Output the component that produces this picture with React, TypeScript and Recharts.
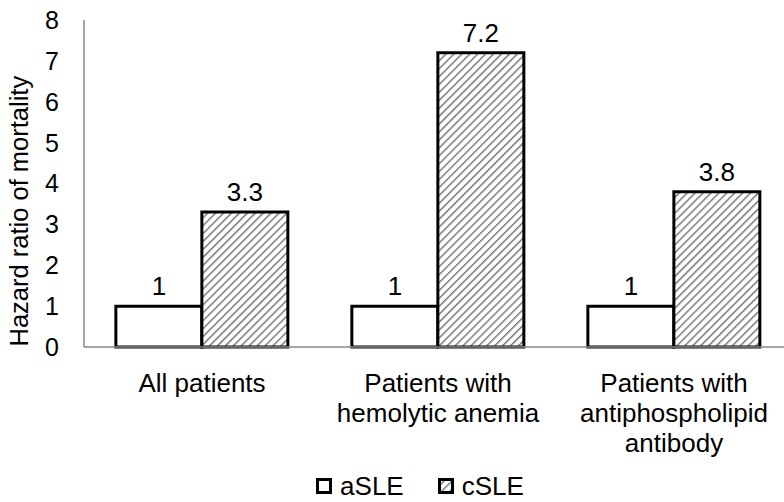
import React from "react";
import { BarChart, Bar, XAxis, YAxis, Legend, LabelList } from "recharts";

const categories = [
  "All patients",
  "Patients with\nhemolytic anemia",
  "Patients with\nantiphospholipid\nantibody",
];
const aSLE = [1, 1, 1];
const cSLE = [3.3, 7.2, 3.8];
const yTicks = [0, 1, 2, 3, 4, 5, 6, 7, 8];

const data = categories.map((name, i) => ({ name, aSLE: aSLE[i], cSLE: cSLE[i] }));

const FONT = "'Liberation Sans', Arial, sans-serif";

function CategoryTick(props: any) {
  const { x, y, payload } = props;
  const lines = String(payload.value).split("\n");
  return (
    <text x={x} y={y} textAnchor="middle" fill="#000" fontSize={26} fontFamily={FONT}>
      {lines.map((line, i) => (
        <tspan key={i} x={x} dy={i === 0 ? 37 : 30}>
          {line}
        </tspan>
      ))}
    </text>
  );
}

function HatchDef({ id }: { id: string }) {
  return (
    <pattern id={id} patternUnits="userSpaceOnUse" width={5.6} height={5.6} patternTransform="rotate(45)">
      <rect width={5.6} height={5.6} fill="#fff" />
      <line x1={0} y1={0} x2={0} y2={5.6} stroke="#707070" strokeWidth={2.8} />
    </pattern>
  );
}

function LegendContent() {
  const item = (label: string, fill: string) => (
    <span style={{ display: "inline-flex", alignItems: "center", margin: "0 17px" }}>
      <svg width={16} height={16} style={{ marginRight: 8 }}>
        <rect x={1.5} y={1.5} width={13} height={13} fill={fill} stroke="#000" strokeWidth={3} />
      </svg>
      <span>{label}</span>
    </span>
  );
  return (
    <div
      style={{
        height: 40,
        boxSizing: "border-box",
        display: "flex",
        justifyContent: "center",
        alignItems: "center",
        fontFamily: FONT,
        fontSize: 26,
        color: "#000",
        paddingLeft: 48,
        paddingTop: 8,
      }}
    >
      {item("aSLE", "#fff")}
      {item("cSLE", "url(#hatch)")}
    </div>
  );
}

export default function App() {
  return (
    <div
      style={{
        position: "absolute",
        left: 0,
        top: 0,
        width: 784,
        height: 502,
        overflow: "hidden",
        background: "#fff",
      }}
    >
      <svg width={0} height={0} style={{ position: "absolute" }}>
        <defs>
          <HatchDef id="hatch" />
        </defs>
      </svg>
      <BarChart
        width={800}
        height={502}
        data={data}
        margin={{ top: 20, right: 8, left: 0, bottom: 0 }}
        barCategoryGap="13.5%"
        barGap={0}
      >
        <defs>
          <HatchDef id="hatchBar" />
        </defs>
        <XAxis
          dataKey="name"
          height={115}
          interval={0}
          tickLine={false}
          axisLine={{ stroke: "#888", strokeWidth: 1.5 }}
          tick={<CategoryTick />}
        />
        <YAxis
          width={84}
          domain={[0, 8]}
          ticks={yTicks}
          interval={0}
          tickLine={false}
          tickSize={0}
          tickMargin={25}
          axisLine={{ stroke: "#888", strokeWidth: 1.5 }}
          tick={{ fill: "#000", fontSize: 25, fontFamily: FONT }}
          label={{
            value: "Hazard ratio of mortality",
            angle: -90,
            position: "insideLeft",
            dx: 14,
            dy: 163,
            fill: "#000",
            fontSize: 25.5,
            fontFamily: FONT,
          }}
        />
        <Legend verticalAlign="bottom" content={<LegendContent />} />
        <Bar dataKey="aSLE" fill="#fff" stroke="#000" strokeWidth={3} isAnimationActive={false}>
          <LabelList dataKey="aSLE" position="top" offset={11} fill="#000" fontSize={26} fontFamily={FONT} />
        </Bar>
        <Bar dataKey="cSLE" fill="url(#hatchBar)" stroke="#000" strokeWidth={3} isAnimationActive={false}>
          <LabelList dataKey="cSLE" position="top" offset={11} fill="#000" fontSize={26} fontFamily={FONT} />
        </Bar>
      </BarChart>
    </div>
  );
}
